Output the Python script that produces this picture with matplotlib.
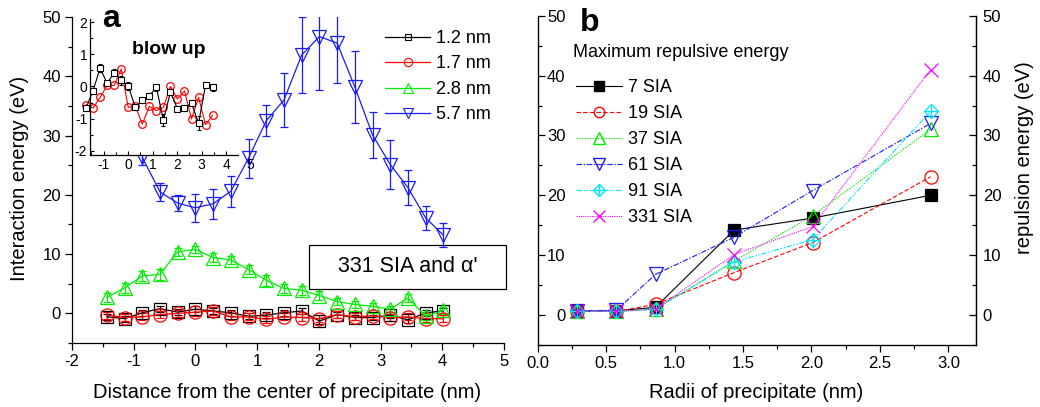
import matplotlib
matplotlib.use('Agg')
import matplotlib.pyplot as plt
from matplotlib.lines import Line2D
from matplotlib.patches import Rectangle
from matplotlib.ticker import MultipleLocator, FormatStrFormatter

plt.rcParams['font.family'] = ['Liberation Sans', 'DejaVu Sans']
plt.rcParams['axes.unicode_minus'] = False

# ---------------- panel a data ----------------
dist = [-1.435, -1.148, -0.861, -0.574, -0.287, 0.0, 0.287, 0.574, 0.861, 1.148,
        1.435, 1.722, 2.009, 2.296, 2.583, 2.870, 3.157, 3.444, 3.731, 4.018]
e_12 = [-0.56, -0.9, 0.1, 0.8, 0.2, 0.7, 0.4, 0.1, -0.5, -0.3,
        0.1, 0.4, -1.3, -0.2, -0.7, -0.7, -0.3, -1.1, 0.1, 0.4]
err_12 = [0.5] * 20
e_17 = [-0.3, -0.7, -0.6, -0.2, 0.0, 0.2, 0.4, -0.6, -0.6, -1.0,
        -0.6, -0.7, -0.9, -0.2, -0.6, -0.4, -0.7, -0.6, -0.9, -0.9]
err_17 = [0.6] * 20
e_28 = [2.7, 4.3, 6.3, 6.6, 10.4, 10.8, 9.4, 9.0, 7.4, 5.6,
        4.2, 3.9, 3.0, 2.0, 1.5, 1.2, 0.7, 2.6, -0.5, 0.5]
err_28 = [0.8, 0.9, 0.8, 0.9, 0.7, 0.6, 0.7, 0.7, 0.8, 0.9,
          0.8, 0.8, 0.7, 0.6, 0.6, 0.6, 0.5, 0.7, 0.7, 0.6]
dist_57 = [-0.861, -0.574, -0.287, 0.0, 0.287, 0.574, 0.861, 1.148, 1.435, 1.722,
           2.009, 2.296, 2.583, 2.870, 3.157, 3.444, 3.731, 4.018]
e_57 = [26.3, 20.5, 18.6, 17.8, 18.5, 20.6, 26.2, 32.5, 36.0, 43.6,
        46.7, 45.6, 38.2, 30.1, 25.1, 21.2, 16.1, 13.2]
err_57 = [1.2, 1.5, 1.4, 2.4, 2.5, 2.6, 3.3, 2.6, 4.6, 6.4,
          9.0, 6.7, 6.0, 3.9, 4.2, 3.0, 2.0, 2.0]

# inset ("blow up")
inset_dist = [-1.722, -1.435, -1.148, -0.861, -0.574, -0.287, 0.0, 0.287, 0.574, 0.861,
              1.148, 1.435, 1.722, 2.009, 2.296, 2.583, 2.870, 3.157, 3.444]
inset_12 = [-0.67, -0.13, 0.57, 0.10, 0.43, 0.19, 0.02, -0.65, -0.43, -0.29,
            -0.03, -1.04, -0.18, -0.69, -0.67, -0.52, -1.14, 0.05, -0.03]
inset_err_12 = [0.1, 0.08, 0.12, 0.08, 0.1, 0.15, 0.12, 0.08, 0.08, 0.08,
                0.1, 0.18, 0.1, 0.08, 0.08, 0.1, 0.22, 0.1, 0.1]
inset_17 = [-0.57, -0.67, -0.34, 0.03, 0.03, 0.54, -0.65, -0.60, -1.17, -0.62,
            -0.75, -0.65, 0.00, -0.39, -0.14, -1.01, -0.34, -1.19, -0.90]

labels_a = ['1.2 nm', '1.7 nm', '2.8 nm', '5.7 nm']

# ---------------- panel b data ----------------
radii = [0.287, 0.574, 0.861, 1.435, 2.009, 2.870]
sia7 = [0.6, 0.7, 1.3, 14.2, 16.2, 20.0]
sia19 = [0.7, 0.6, 1.8, 7.1, 12.1, 23.1]
sia37 = [0.6, 0.6, 1.0, 9.0, 16.6, 31.0]
sia61 = [0.7, 0.8, 6.8, 13.0, 20.8, 32.0]
sia91 = [0.6, 0.6, 1.0, 8.9, 12.6, 34.0]
sia331 = [0.7, 0.6, 1.0, 10.1, 14.8, 41.0]
labels_b = ['7 SIA', '19 SIA', '37 SIA', '61 SIA', '91 SIA', '331 SIA']

BLACK, RED, GREEN, BLUE, CYAN, MAG = '#000000', '#ff0000', '#00ee00', '#1a1aff', '#00e5ff', '#ff00ff'

W, H = 1040, 407
fig = plt.figure(figsize=(W / 100, H / 100), dpi=100)

def fx(px):
    return px / W

def fy(py):
    return 1 - py / H

# ================= panel a =================
axa = fig.add_axes([fx(72), fy(343), fx(504) - fx(72), fy(17) - fy(343)])
axa.set_xlim(-2, 5)
axa.set_ylim(-5, 50)
for s in ['top', 'right']:
    axa.spines[s].set_visible(False)
for s in ['left', 'bottom']:
    axa.spines[s].set_linewidth(0.9)
axa.xaxis.set_major_locator(MultipleLocator(1))
axa.xaxis.set_minor_locator(MultipleLocator(0.5))
axa.yaxis.set_major_locator(MultipleLocator(10))
axa.yaxis.set_minor_locator(MultipleLocator(5))
axa.tick_params(which='major', direction='out', length=5, width=0.9, labelsize=12, pad=3)
axa.tick_params(which='minor', direction='out', length=3, width=0.9)

ekw = dict(elinewidth=0.9, capsize=3, capthick=0.9, lw=0.9)
axa.errorbar(dist, e_12, yerr=err_12, color=BLACK, marker='s', ms=8.5, mfc='none', mew=0.9, **ekw)
axa.errorbar(dist, e_17, yerr=err_17, color=RED, marker='o', ms=9.5, mfc='none', mew=0.9, **ekw)
axa.errorbar(dist, e_28, yerr=err_28, color=GREEN, marker='^', ms=9.5, mfc='none', mew=0.9, **ekw)
axa.errorbar(dist_57, e_57, yerr=err_57, color=BLUE, marker='v', ms=10.5, mfc='none', mew=0.9, **ekw)

h_a = [Line2D([], [], color=BLACK, marker='s', ms=5, mfc='none', lw=0.9, mew=0.8),
       Line2D([], [], color=RED, marker='o', ms=6, mfc='none', lw=0.9, mew=0.8),
       Line2D([], [], color=GREEN, marker='^', ms=7, mfc='none', lw=0.9, mew=0.8),
       Line2D([], [], color=BLUE, marker='v', ms=7, mfc='none', lw=0.9, mew=0.8)]
fig.legend(h_a, labels_a, loc='upper left', bbox_to_anchor=(fx(385), fy(30)),
           frameon=False, fontsize=13, handlelength=2.5, handletextpad=0.35,
           labelspacing=0.47, borderpad=0, borderaxespad=0)

fig.text(fx(287), fy(392), 'Distance from the center of precipitate (nm)',
         ha='center', va='center', fontsize=14.5)
fig.text(fx(20), fy(178), 'Interaction energy (eV)', rotation=90,
         ha='center', va='center', fontsize=14.5)
fig.text(fx(102), fy(27), 'a', fontsize=23, fontweight='bold', va='baseline')

# text box
fig.patches.append(Rectangle((fx(309), fy(289)), fx(506) - fx(309), fy(245) - fy(289),
                             transform=fig.transFigure, fill=False, edgecolor='black', lw=0.9))
fig.text(fx(407.5), fy(267), "331 SIA and \u03b1'", ha='center', va='center', fontsize=15.5)

# ----- inset -----
axi = fig.add_axes([fx(90), fy(155), fx(238) - fx(90), fy(19.5) - fy(155)])
axi.set_facecolor('white')
axi.set_xlim(-1.56, 4.48)
axi.set_ylim(-2.13, 2.08)
for s in ['top', 'right']:
    axi.spines[s].set_visible(False)
for s in ['left', 'bottom']:
    axi.spines[s].set_linewidth(0.9)
axi.set_xticks([-1, 0, 1, 2, 3, 4])
axi.xaxis.set_minor_locator(MultipleLocator(0.5))
axi.set_yticks([-2, -1, 0, 1, 2])
axi.yaxis.set_minor_locator(MultipleLocator(0.5))
axi.tick_params(which='major', direction='in', length=3, width=0.8, labelsize=10, pad=2)
axi.tick_params(which='minor', direction='in', length=2, width=0.8)
axi.plot(inset_dist, inset_17, color=RED, marker='o', ms=5.5, mfc='none', mew=0.9, lw=0.8, clip_on=False)
axi.errorbar(inset_dist, inset_12, yerr=inset_err_12, color=BLACK, marker='s', ms=5, mfc='white',
             mew=0.8, lw=0.8, elinewidth=0.8, capsize=1.5, clip_on=False)
axi.annotate('5', xy=(5, 0), xycoords=('data', 'axes fraction'), xytext=(0, -2),
             textcoords='offset points', ha='center', va='top', fontsize=10, annotation_clip=False)
fig.text(fx(132), fy(54), 'blow up', fontsize=14, fontweight='bold', va='baseline')

# ================= panel b =================
axb = fig.add_axes([fx(537.7), fy(345), fx(975.7) - fx(537.7), fy(15.7) - fy(345)])
axb.set_xlim(0, 3.2)
axb.set_ylim(-5, 50)
axb.spines['top'].set_visible(False)
for s in ['left', 'bottom', 'right']:
    axb.spines[s].set_linewidth(0.9)
axb.xaxis.set_major_locator(MultipleLocator(0.5))
axb.xaxis.set_minor_locator(MultipleLocator(0.25))
axb.xaxis.set_major_formatter(FormatStrFormatter('%.1f'))
axb.yaxis.set_major_locator(MultipleLocator(10))
axb.yaxis.set_minor_locator(MultipleLocator(5))
axb.tick_params(axis='x', which='major', direction='out', length=5, width=0.9, labelsize=12, pad=3)
axb.tick_params(axis='x', which='minor', direction='out', length=3, width=0.9)
axb.tick_params(axis='y', which='major', direction='in', length=5, width=0.9, labelsize=12, pad=-20)
axb.tick_params(axis='y', which='minor', direction='in', length=3, width=0.9)

axr = axb.twinx()
axr.set_ylim(-5, 50)
axr.spines['top'].set_visible(False)
axr.spines['right'].set_linewidth(0.9)
axr.yaxis.set_major_locator(MultipleLocator(10))
axr.yaxis.set_minor_locator(MultipleLocator(5))
axr.tick_params(axis='y', which='major', direction='in', length=5, width=0.9, labelsize=12, pad=5)
axr.tick_params(axis='y', which='minor', direction='in', length=3, width=0.9)

lkw = dict(lw=0.8, mew=0.9)
axb.plot(radii, sia7, color=BLACK, ls='-', marker='s', ms=8.5, mfc=BLACK, **lkw)
axb.plot(radii, sia19, color=RED, ls=(0, (4, 2)), marker='o', ms=9.5, mfc='none', **lkw)
axb.plot(radii, sia37, color=GREEN, ls=(0, (1.2, 1.2)), marker='^', ms=10, mfc='none', **lkw)
axb.plot(radii, sia61, color=BLUE, ls=(0, (5, 1.5, 1.2, 1.5)), marker='v', ms=10, mfc='none', **lkw)
axb.plot(radii, sia91, color=CYAN, ls=(0, (5, 1.5, 1.2, 1.5, 1.2, 1.5)), marker='D', ms=7.5, mfc='none', **lkw)
axb.plot(radii, sia91, color=CYAN, ls='none', marker='+', ms=10, mew=0.9)
axb.plot(radii, sia331, color=MAG, ls=(0, (1, 1)), marker='x', ms=10, **lkw)

h_b = [Line2D([], [], color=BLACK, ls='-', marker='s', ms=6.5, mfc=BLACK, lw=0.8),
       Line2D([], [], color=RED, ls=(0, (4, 2)), marker='o', ms=7.5, mfc='none', lw=0.8),
       Line2D([], [], color=GREEN, ls=(0, (1.2, 1.2)), marker='^', ms=8.5, mfc='none', lw=0.8),
       Line2D([], [], color=BLUE, ls=(0, (5, 1.5, 1.2, 1.5)), marker='v', ms=8.5, mfc='none', lw=0.8),
       (Line2D([], [], color=CYAN, ls=(0, (5, 1.5, 1.2, 1.5, 1.2, 1.5)), marker='D', ms=6.5, mfc='none', lw=0.8),
        Line2D([], [], color=CYAN, ls='none', marker='+', ms=8.5)),
       Line2D([], [], color=MAG, ls=(0, (1, 1)), marker='x', ms=8.5, lw=0.8)]
fig.legend(h_b, labels_b, loc='upper left', bbox_to_anchor=(fx(576), fy(79)),
           frameon=False, fontsize=13, handlelength=2.55, handletextpad=0.35,
           labelspacing=0.5, borderpad=0, borderaxespad=0)
fig.text(fx(573), fy(52.7), 'Maximum repulsive energy', ha='left', va='center', fontsize=13)
fig.text(fx(580), fy(31), 'b', fontsize=23, fontweight='bold', va='baseline')

fig.text(fx(756), fy(393), 'Radii of precipitate (nm)', ha='center', va='center', fontsize=14.5)
fig.text(fx(1025), fy(158), 'repulsion energy (eV)', rotation=90, ha='center', va='center', fontsize=14.5)

fig.savefig('out.png', dpi=100)
